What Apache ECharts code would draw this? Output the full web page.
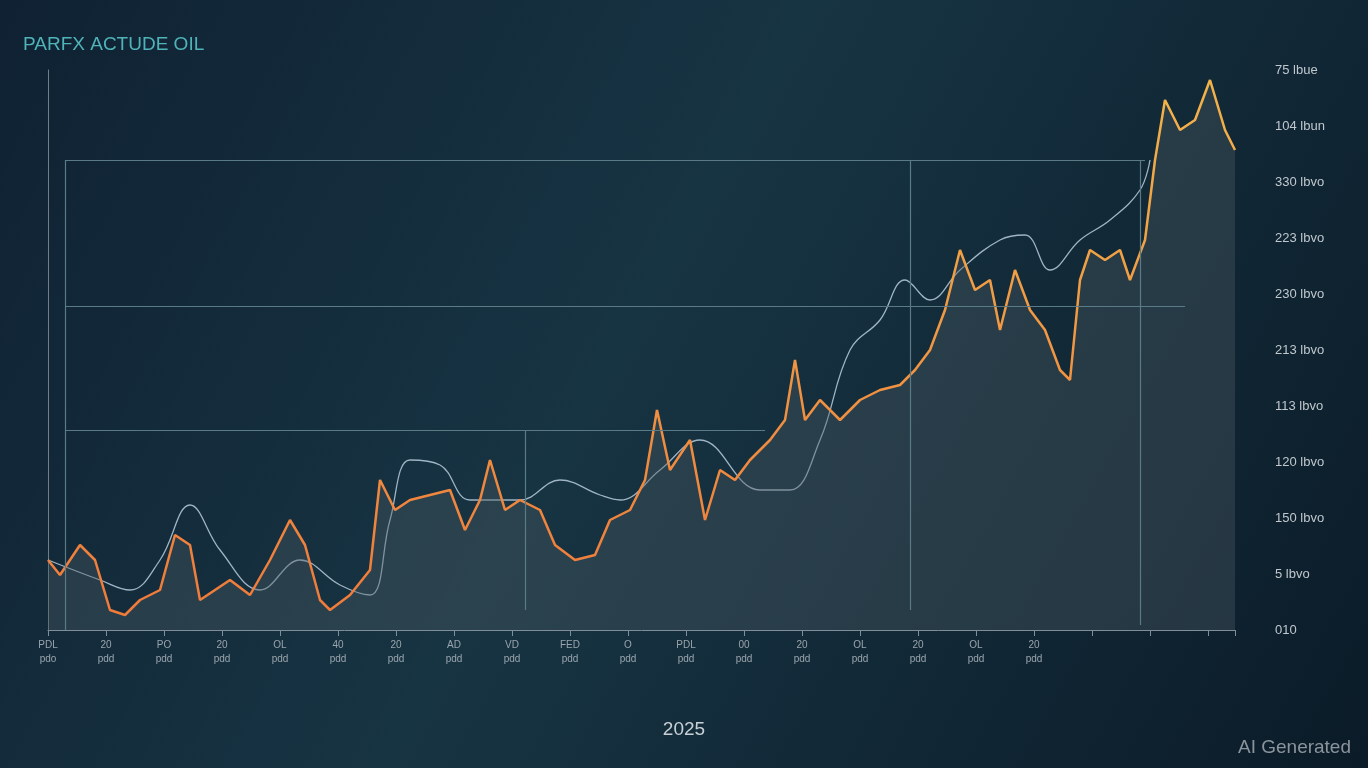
<!DOCTYPE html>
<html><head><meta charset="utf-8">
<script src="https://cdn.jsdelivr.net/npm/echarts@6/dist/echarts.min.js"></script>
<style>html,body{margin:0;padding:0;background:#0d1e2c}#c{width:1368px;height:768px}</style>
</head><body><div id="c"></div>
<script>
const priceDays=[0,12,32,47,62,77,92,112,127,142,152,167,182,202,222,242,257,272,282,302,322,332,347,362,382,402,417,432,442,457,472,492,507,527,547,562,582,597,609,622,642,657,672,687,702,722,737,747,757,772,792,812,832,852,867,882,897,912,927,942,952,967,982,997,1012,1022,1032,1042,1057,1072,1082,1097,1107,1117,1132,1147,1162,1177,1187];
const priceVals=[70,55,85,70,20,15,30,40,95,85,30,40,50,35,70,110,85,30,20,35,60,150,120,130,135,140,100,130,170,120,130,120,85,70,75,110,120,150,220,160,190,110,160,150,170,190,210,270,210,230,210,230,240,245,260,280,320,380,340,350,300,360,320,300,260,250,350,380,370,380,350,390,470,530,500,510,550,500,480];
const avgDays=[0,52,82,112,142,172,212,252,292,322,342,362,392,422,472,512,552,572,612,652,712,742,772,802,832,857,882,912,952,977,1002,1032,1062,1092,1102];
const avgVals=[70,50,40,70,125,80,40,70,45,35,110,170,165,130,130,150,135,130,160,190,140,140,190,280,310,350,330,360,390,395,360,390,410,440,470];
const yLabels=['010','5 lbvo','150 lbvo','120 lbvo','113 lbvo','213 lbvo','230 lbvo','223 lbvo','330 lbvo','104 lbun','75 lbue'];
const xTop=['PDL','20','PO','20','OL','40','20','AD','VD','FED','O','PDL','00','20','OL','20','OL','20'];
const xBot=['pdo','pdd','pdd','pdd','pdd','pdd','pdd','pdd','pdd','pdd','pdd','pdd','pdd','pdd','pdd','pdd','pdd','pdd'];
const ch=echarts.init(document.getElementById('c'));
ch.setOption({
backgroundColor:{type:'linear',x:0,y:0,x2:1,y2:1,colorStops:[{offset:0,color:'#0f2132'},{offset:0.45,color:'#173443'},{offset:1,color:'#0b1b28'}]},
title:[{text:'PARFX ACTUDE OIL',left:18,top:30,textStyle:{color:'#4fb3b8',fontSize:19,fontWeight:'normal',fontFamily:'Liberation Sans'}},
{text:'2025',left:'center',top:715,textStyle:{color:'#c8d0d6',fontSize:19,fontWeight:'normal'}},
{text:'AI Generated',right:12,top:733,textStyle:{color:'#8a949c',fontSize:19,fontWeight:'normal'}}],
grid:{left:48,right:133,top:70,bottom:138},
xAxis:{type:'value',min:0,max:1187,interval:58,axisLine:{lineStyle:{color:'#7f8e98'}},axisTick:{show:true,length:6,lineStyle:{color:'#7f8e98'}},splitLine:{show:false},
axisLabel:{color:'#9aa5ad',fontSize:10,formatter:(v,i)=>{const k=Math.round(v/58);return k<xTop.length?xTop[k]+'\n'+xBot[k]:'';},lineHeight:14}},
yAxis:{type:'value',position:'right',min:0,max:560,interval:56,axisLine:{show:true,lineStyle:{color:'#6f7e88'}},axisTick:{show:false},splitLine:{show:false},
axisLabel:{color:'#c0c8ce',fontSize:13,margin:40,formatter:(v)=>yLabels[Math.round(v/56)]||''}},
series:[
{type:'line',data:avgDays.map((d,i)=>[d,avgVals[i]]),smooth:0.4,symbol:'none',lineStyle:{color:'#9fb4c4',width:1.3},z:2},
{type:'line',data:priceDays.map((d,i)=>[d,priceVals[i]]),symbol:'none',
lineStyle:{width:2.5,color:{type:'linear',x:0,y:0,x2:0,y2:1,colorStops:[{offset:0,color:'#f2b34a'},{offset:1,color:'#f07a3a'}]}},
areaStyle:{color:'rgba(75,90,100,0.55)'},z:3,
markLine:{symbol:'none',silent:true,label:{show:false},lineStyle:{color:'#5a7b85',type:'solid',width:1.2},
data:[[{coord:[17,470]},{coord:[1097,470]}],[{coord:[17,324]},{coord:[1137,324]}],[{coord:[17,200]},{coord:[717,200]}],
[{coord:[17,0]},{coord:[17,470]}],[{coord:[862,20]},{coord:[862,470]}],[{coord:[1092,5]},{coord:[1092,470]}],[{coord:[477,20]},{coord:[477,200]}]]}}
]});
</script></body></html>
